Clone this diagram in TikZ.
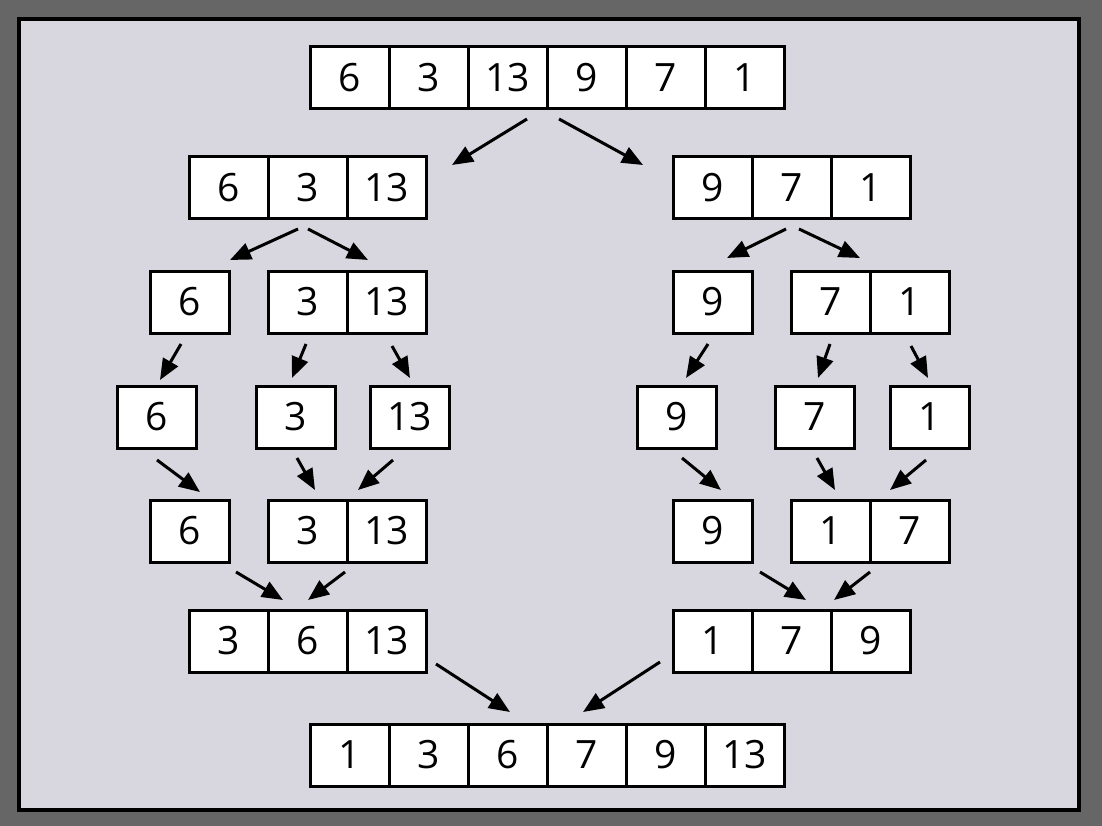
\documentclass[tikz,border=0pt]{standalone}
\usepackage{fontspec}
\setmainfont{Open Sans}
\usetikzlibrary{arrows.meta}

\definecolor{frameGray}{HTML}{666666}
\definecolor{panelGray}{HTML}{D8D7E0}

\begin{document}
\begin{tikzpicture}[x=1pt, y=-1pt,
	cell/.style={draw=black, fill=white, line width=3pt, minimum width=79pt, minimum height=62pt,
		inner sep=0pt, outer sep=0pt, font=\fontsize{39}{47}\selectfont},
	sortArrow/.style={line width=3pt, -{Triangle[length=21pt, width=17pt]}}]

	% grey frame with the light panel inside
	\fill[frameGray] (0, 0) rectangle (1102, 826);
	\draw[line width = 4pt, fill = panelGray] (19, 19) rectangle (1079, 810);

	% size of one cell
	\def\cellWidth{79}
	\def\cellHeight{62}

	% row of cells: name, left edge, top edge, values
	\def\cellRow#1#2#3#4{
		\foreach \val [count = \i] in {#4} {
			\node[cell] (#1-\i) at ({#2 + (\i - 0.5) * \cellWidth}, {#3 + \cellHeight / 2}) {\val};
		}
	}

	% unsorted input
	\cellRow{in}{310}{47}{6, 3, 13, 9, 7, 1}

	% split in halves
	\cellRow{leftHalf}{189}{157}{6, 3, 13}
	\cellRow{rightHalf}{673}{157}{9, 7, 1}

	% split again
	\cellRow{leftA}{150}{271}{6}
	\cellRow{leftB}{268}{271}{3, 13}
	\cellRow{rightA}{673}{271}{9}
	\cellRow{rightB}{791}{271}{7, 1}

	% single elements
	\cellRow{leftOne}{117}{386}{6}
	\cellRow{leftTwo}{256}{386}{3}
	\cellRow{leftThree}{370}{386}{13}
	\cellRow{rightOne}{637}{386}{9}
	\cellRow{rightTwo}{775}{386}{7}
	\cellRow{rightThree}{890}{386}{1}

	% first merge
	\cellRow{leftMergeA}{150}{500}{6}
	\cellRow{leftMergeB}{268}{500}{3, 13}
	\cellRow{rightMergeA}{673}{500}{9}
	\cellRow{rightMergeB}{791}{500}{1, 7}

	% merged halves
	\cellRow{leftSorted}{189}{610}{3, 6, 13}
	\cellRow{rightSorted}{673}{610}{1, 7, 9}

	% sorted output
	\cellRow{out}{310}{724}{1, 3, 6, 7, 9, 13}

	% splitting arrows
	\draw[sortArrow] ([shift={(19.5, 10)}]in-3.south) -- ([shift={(26, 8)}]leftHalf-3.north east);
	\draw[sortArrow] ([shift={(-27.5, 10)}]in-4.south) -- ([shift={(-30, 8)}]rightHalf-1.north west);

	\draw[sortArrow] ([shift={(-9.5, 10)}]leftHalf-2.south) -- ([shift={(40.5, -11)}]leftA-1.north);
	\draw[sortArrow] ([shift={(0.5, 10)}]leftHalf-2.south) -- ([shift={(-18.5, -11)}]leftB-2.north);
	\draw[sortArrow] ([shift={(-5.5, 10)}]rightHalf-2.south) -- ([shift={(14.5, -13)}]rightA-1.north);
	\draw[sortArrow] ([shift={(7.5, 10)}]rightHalf-2.south) -- ([shift={(29.5, -13)}]rightB-1.north);

	\draw[sortArrow] ([shift={(-8.5, 11)}]leftA-1.south) -- ([shift={(3.5, -6)}]leftOne-1.north);
	\draw[sortArrow] ([shift={(-1.5, 11)}]leftB-1.south) -- ([shift={(-3.5, -8)}]leftTwo-1.north);
	\draw[sortArrow] ([shift={(5.5, 13)}]leftB-2.south) -- ([shift={(0.5, -8)}]leftThree-1.north);
	\draw[sortArrow] ([shift={(-4.5, 11)}]rightA-1.south) -- ([shift={(9.5, -8)}]rightOne-1.north);
	\draw[sortArrow] ([shift={(-0.5, 11)}]rightB-1.south) -- ([shift={(3.5, -8)}]rightTwo-1.north);
	\draw[sortArrow] ([shift={(1.5, 13)}]rightB-2.south) -- ([shift={(-1.5, -8)}]rightThree-1.north);

	% merging arrows
	\draw[sortArrow] ([shift={(0.5, 12)}]leftOne-1.south) -- ([shift={(10.5, -8)}]leftMergeA-1.north);
	\draw[sortArrow] ([shift={(1.5, 10)}]leftTwo-1.south) -- ([shift={(7.5, -10)}]leftMergeB-1.north);
	\draw[sortArrow] ([shift={(-16.5, 12)}]leftThree-1.south) -- ([shift={(-28.5, -10)}]leftMergeB-2.north);
	\draw[sortArrow] ([shift={(5.5, 10)}]rightOne-1.south) -- ([shift={(8.5, -10)}]rightMergeA-1.north);
	\draw[sortArrow] ([shift={(2.5, 10)}]rightTwo-1.south) -- ([shift={(4.5, -10)}]rightMergeB-1.north);
	\draw[sortArrow] ([shift={(-3.5, 12)}]rightThree-1.south) -- ([shift={(-19.5, -10)}]rightMergeB-2.north);

	\draw[sortArrow] ([shift={(46.5, 10)}]leftMergeA-1.south) -- ([shift={(-24.5, -10)}]leftSorted-2.north);
	\draw[sortArrow] ([shift={(-41.5, 10)}]leftMergeB-2.south) -- ([shift={(0.5, -10)}]leftSorted-2.north);
	\draw[sortArrow] ([shift={(47.5, 10)}]rightMergeA-1.south) -- ([shift={(14.5, -10)}]rightSorted-2.north);
	\draw[sortArrow] ([shift={(39.5, 10)}]rightMergeB-1.south) -- ([shift={(42.5, -10)}]rightSorted-2.north);

	\draw[sortArrow] ([shift={(10, -8)}]leftSorted-3.south east) -- ([shift={(2.5, -12)}]out-3.north);
	\draw[sortArrow] ([shift={(-13, -10)}]rightSorted-1.south west) -- ([shift={(-3.5, -12)}]out-4.north);

\end{tikzpicture}
\end{document}
